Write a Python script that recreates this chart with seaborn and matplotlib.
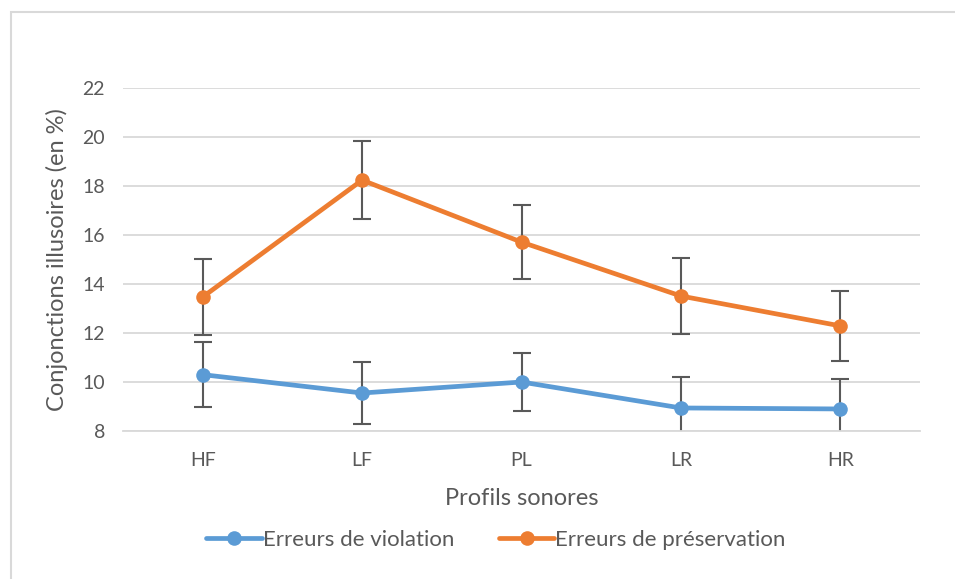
import matplotlib
matplotlib.use("Agg")
import matplotlib.pyplot as plt
import seaborn as sns
import pandas as pd
from matplotlib.patches import Rectangle

categories = ["HF", "LF", "PL", "LR", "HR"]
violation = [10.3, 9.55, 10.0, 8.94, 8.9]
violation_err = [1.33, 1.28, 1.2, 1.28, 1.22]
preservation = [13.47, 18.24, 15.71, 13.51, 12.29]
preservation_err = [1.57, 1.58, 1.5, 1.55, 1.43]
series_names = ["Erreurs de violation", "Erreurs de préservation"]
colors = ["#5b9bd5", "#ed7d31"]

sns.set_style("white")
plt.rcParams['font.family'] = ['Lato', 'DejaVu Sans']

df = pd.DataFrame({
    "Profil": categories * 2,
    "Valeur": violation + preservation,
    "Série": [series_names[0]] * 5 + [series_names[1]] * 5,
})

fig = plt.figure(figsize=(9.55, 5.79), dpi=100)
ax = fig.add_axes([123/955, 1 - 431/579, 797/955, 343/579])

# Frame around chart area (only top/left visible)
fig.patches.append(Rectangle((11/955, -0.1), 1.2, (579 - 12)/579 + 0.1, transform=fig.transFigure,
                             fill=False, edgecolor="#d9d9d9", linewidth=1.5, zorder=0))

x = list(range(len(categories)))
for vals, errs in [(violation, violation_err), (preservation, preservation_err)]:
    ax.errorbar(x, vals, yerr=errs, fmt="none", ecolor="#595959", elinewidth=1.5,
                capsize=6.5, capthick=1.5, zorder=2)

sns.lineplot(data=df, x="Profil", y="Valeur", hue="Série", palette=colors, sort=False,
             marker="o", markersize=10.5, markeredgewidth=0, linewidth=3.4, ax=ax, zorder=3)

ax.set_xlim(-0.5, 4.5)
ax.set_ylim(8, 22)
ax.set_yticks(range(8, 23, 2))
ax.grid(axis="y", color="#d9d9d9", linewidth=1.3)
ax.set_axisbelow(True)
for s in ["top", "right", "left"]:
    ax.spines[s].set_visible(False)
ax.spines["bottom"].set_color("#d9d9d9")
ax.spines["bottom"].set_linewidth(1.3)
ax.tick_params(axis="both", length=0, labelsize=14, colors="#595959")
ax.tick_params(axis="y", pad=13)
ax.tick_params(axis="x", pad=15)
ax.set_xlabel("Profils sonores", fontsize=17, color="#595959", labelpad=14)
ax.set_ylabel("Conjonctions illusoires (en %)", fontsize=17, color="#595959", labelpad=10)

leg = ax.legend(loc="center", bbox_to_anchor=(496/955, (579 - 540) / 579), bbox_transform=fig.transFigure,
                ncol=2, frameon=False, fontsize=16, handlelength=2.5, handletextpad=0.05,
                columnspacing=2.0, title=None)
for t in leg.get_texts():
    t.set_color("#595959")

fig.savefig("out.png", dpi=100)
